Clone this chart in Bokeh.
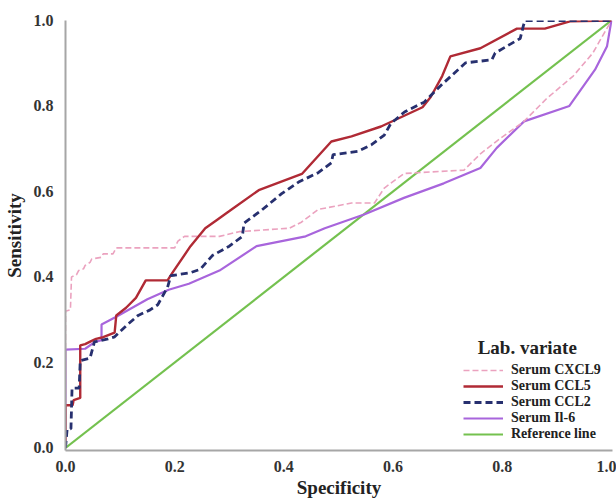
from bokeh.plotting import figure
from bokeh.models import Range1d, Legend, LegendItem, Label
from bokeh.embed import file_html
from bokeh.resources import INLINE

# ---- data ----
cxcl9_x = [0.0, 0.0, 0.009, 0.011, 0.02, 0.024, 0.033, 0.036, 0.045, 0.048, 0.066, 0.069,
           0.087, 0.093, 0.2, 0.206, 0.218, 0.282, 0.318, 0.41, 0.432, 0.463, 0.524, 0.566,
           0.584, 0.62, 0.73, 0.76, 0.79, 0.839, 0.881, 0.93, 0.966, 1.0]
cxcl9_y = [0.0, 0.32, 0.323, 0.40, 0.405, 0.415, 0.419, 0.427, 0.434, 0.442, 0.446, 0.454,
           0.454, 0.468, 0.468, 0.484, 0.495, 0.495, 0.506, 0.514, 0.528, 0.558, 0.573, 0.573,
           0.608, 0.642, 0.65, 0.688, 0.718, 0.763, 0.817, 0.87, 0.924, 1.0]

ccl5_x = [0.0, 0.0, 0.013, 0.015, 0.027, 0.027, 0.036, 0.047, 0.056, 0.069, 0.09, 0.093,
          0.111, 0.129, 0.147, 0.187, 0.196, 0.229, 0.256, 0.278, 0.299, 0.354, 0.433, 0.487,
          0.524, 0.578, 0.654, 0.669, 0.69, 0.705, 0.76, 0.827, 0.878, 0.924, 1.0]
ccl5_y = [0.0, 0.10, 0.10, 0.112, 0.117, 0.24, 0.243, 0.25, 0.255, 0.259, 0.27, 0.31,
          0.328, 0.351, 0.392, 0.392, 0.41, 0.472, 0.514, 0.534, 0.553, 0.603, 0.641, 0.717,
          0.729, 0.752, 0.797, 0.821, 0.87, 0.916, 0.935, 0.981, 0.981, 0.998, 1.0]

ccl2_x = [0.0, 0.003, 0.01, 0.012, 0.025, 0.027, 0.045, 0.053, 0.078, 0.09, 0.114, 0.133,
          0.155, 0.169, 0.187, 0.193, 0.229, 0.247, 0.269, 0.3, 0.324, 0.327, 0.36, 0.396,
          0.427, 0.463, 0.487, 0.49, 0.536, 0.56, 0.584, 0.596, 0.621, 0.657, 0.69, 0.733,
          0.781, 0.787, 0.833, 0.839, 0.842, 1.0]
ccl2_y = [0.0, 0.044, 0.045, 0.14, 0.14, 0.204, 0.21, 0.248, 0.255, 0.26, 0.289, 0.31,
          0.323, 0.335, 0.376, 0.403, 0.41, 0.418, 0.45, 0.472, 0.495, 0.526, 0.557, 0.595,
          0.622, 0.644, 0.667, 0.686, 0.694, 0.709, 0.732, 0.759, 0.786, 0.809, 0.851, 0.901,
          0.908, 0.924, 0.958, 0.989, 1.0, 1.0]

il6_x = [0.0, 0.0, 0.036, 0.054, 0.066, 0.066, 0.093, 0.15, 0.189, 0.226, 0.282, 0.35,
         0.44, 0.475, 0.547, 0.62, 0.693, 0.76, 0.79, 0.84, 0.923, 0.97, 0.992, 1.0]
il6_y = [0.0, 0.23, 0.232, 0.248, 0.252, 0.289, 0.307, 0.348, 0.37, 0.384, 0.415, 0.472,
         0.495, 0.514, 0.546, 0.585, 0.619, 0.655, 0.702, 0.764, 0.8, 0.885, 0.94, 1.0]

ref_x = [0.0, 1.0]
ref_y = [0.0, 1.0]

series_names = ["Serum CXCL9", "Serum CCL5", "Serum CCL2", "Serum Il-6", "Reference line"]
x_ticks = [0.0, 0.2, 0.4, 0.6, 0.8, 1.0]
y_ticks = [0.0, 0.2, 0.4, 0.6, 0.8, 1.0]
legend_title = "Lab. variate"
x_label = "Specificity"
y_label = "Sensitivity"

FONT = "Liberation Serif"

p = figure(width=616, height=500, output_backend="svg", toolbar_location=None,
           x_range=Range1d(0, 1.002), y_range=Range1d(-0.006, 1.0),
           min_border_left=62, min_border_right=4, min_border_top=20, min_border_bottom=42)
p.outline_line_color = None
p.grid.grid_line_color = None
p.background_fill_color = "white"
p.border_fill_color = "white"

for ax in (p.xaxis[0], p.yaxis[0]):
    ax.axis_line_color = "#a6a6a6"
    ax.axis_line_width = 2
    ax.major_tick_line_color = None
    ax.minor_tick_line_color = None
    ax.major_label_text_font = FONT
    ax.major_label_text_font_style = "bold"
    ax.major_label_text_font_size = "16px"
    ax.major_label_text_color = "#333333"
    ax.axis_label_text_font = FONT
    ax.axis_label_text_font_style = "bold"
    ax.axis_label_text_font_size = "19px"
    ax.axis_label_text_color = "#222222"

p.xaxis.ticker = x_ticks
p.yaxis.ticker = y_ticks
p.xaxis.major_label_overrides = {t: f"{t:.1f}" for t in x_ticks}
p.yaxis.major_label_overrides = {t: f"{t:.1f}" for t in y_ticks}
p.xaxis.axis_label = x_label
p.yaxis.axis_label = y_label
p.xaxis.major_label_standoff = 4
p.yaxis.major_label_standoff = 6
p.xaxis.axis_label_standoff = 2
p.yaxis.axis_label_standoff = 6

r_ref = p.line(ref_x, ref_y, line_color="#74c14f", line_width=2.2)
r_il6 = p.line(il6_x, il6_y, line_color="#a865dc", line_width=2.2)
r_cxcl9 = p.line(cxcl9_x, cxcl9_y, line_color="#eba2bf", line_width=1.6, line_dash="6 3")
r_ccl5 = p.line(ccl5_x, ccl5_y, line_color="#b02a35", line_width=2.4)
r_ccl2 = p.line(ccl2_x, ccl2_y, line_color="#27306f", line_width=2.8, line_dash="7 4")

renderers = [r_cxcl9, r_ccl5, r_ccl2, r_il6, r_ref]
legend = Legend(items=[LegendItem(label=n, renderers=[r]) for n, r in zip(series_names, renderers)],
                location=(398, 8), background_fill_alpha=0, border_line_color=None,
                label_text_font=FONT, label_text_font_style="bold", label_text_font_size="14px",
                label_text_color="#222222", glyph_width=40, glyph_height=14, label_height=14,
                label_standoff=8, spacing=0, padding=0, margin=0)
p.add_layout(legend)

p.add_layout(Label(x=0.755, y=0.236, text=legend_title, text_font=FONT, text_font_style="bold",
                   text_font_size="19px", text_color="#222222", text_baseline="middle"))

open("out.html", "w").write(file_html(p, INLINE))
